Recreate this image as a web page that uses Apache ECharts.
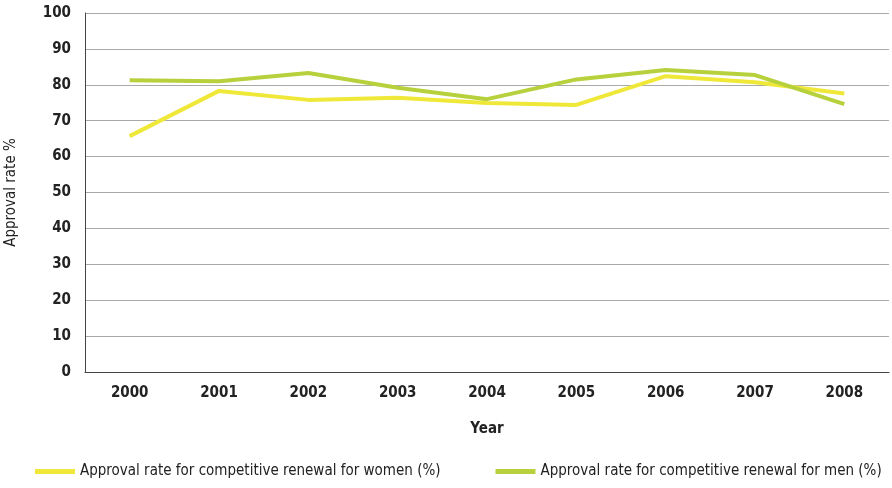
<!DOCTYPE html>
<html><head><meta charset="utf-8">
<script src="https://cdn.jsdelivr.net/npm/echarts@6/dist/echarts.min.js"></script>
<style>html,body{margin:0;padding:0;background:#fff}#c{width:892px;height:488px}</style>
</head><body><div id="c"></div>
<script>
var years = ['2000','2001','2002','2003','2004','2005','2006','2007','2008'];
var women = [65.7, 78.3, 75.8, 76.4, 74.9, 74.4, 82.4, 80.7, 77.6];
var men = [81.3, 81.0, 83.3, 79.2, 76.0, 81.5, 84.1, 82.7, 74.6];
var font = '"Liberation Sans Narrow", "DejaVu Sans Condensed", sans-serif';

var chart = echarts.init(document.getElementById('c'));
chart.setOption({
	animation: false,
	textStyle: { fontFamily: font },
	grid: { left: 85, right: 3, top: 13, bottom: 116, outerBoundsMode: 'none' },
	legend: {
		bottom: 4, left: 30, width: 870, itemGap: 55, itemWidth: 40, itemHeight: 5,
		icon: 'rect',
		textStyle: { fontSize: 15, color: '#222', fontFamily: font },
		data: ['Approval rate for competitive renewal for women (%)', 'Approval rate for competitive renewal for men (%)']
	},
	xAxis: {
		type: 'category', data: years, name: 'Year', nameLocation: 'middle', nameGap: 50,
		nameTextStyle: { fontSize: 15, fontWeight: 'bold', color: '#222', fontFamily: font },
		axisLine: { lineStyle: { color: '#444' } },
		axisTick: { show: false },
		axisLabel: { fontSize: 15, fontWeight: 'bold', color: '#222', margin: 14 }
	},
	yAxis: {
		type: 'value', min: 0, max: 100, interval: 10,
		name: 'Approval rate %', nameLocation: 'middle', nameGap: 66,
		nameTextStyle: { fontSize: 15, color: '#222', fontFamily: font },
		axisLine: { show: true, lineStyle: { color: '#444' } },
		axisLabel: { fontSize: 15, fontWeight: 'bold', color: '#222', margin: 14 },
		splitLine: { lineStyle: { color: '#aaa' } }
	},
	series: [
		{ name: 'Approval rate for competitive renewal for women (%)', type: 'line', data: women,
		  symbol: 'none', lineStyle: { width: 4, color: '#efe838' }, itemStyle: { color: '#efe838' } },
		{ name: 'Approval rate for competitive renewal for men (%)', type: 'line', data: men,
		  symbol: 'none', lineStyle: { width: 4, color: '#b6d13c' }, itemStyle: { color: '#b6d13c' } }
	]
});
</script></body></html>
